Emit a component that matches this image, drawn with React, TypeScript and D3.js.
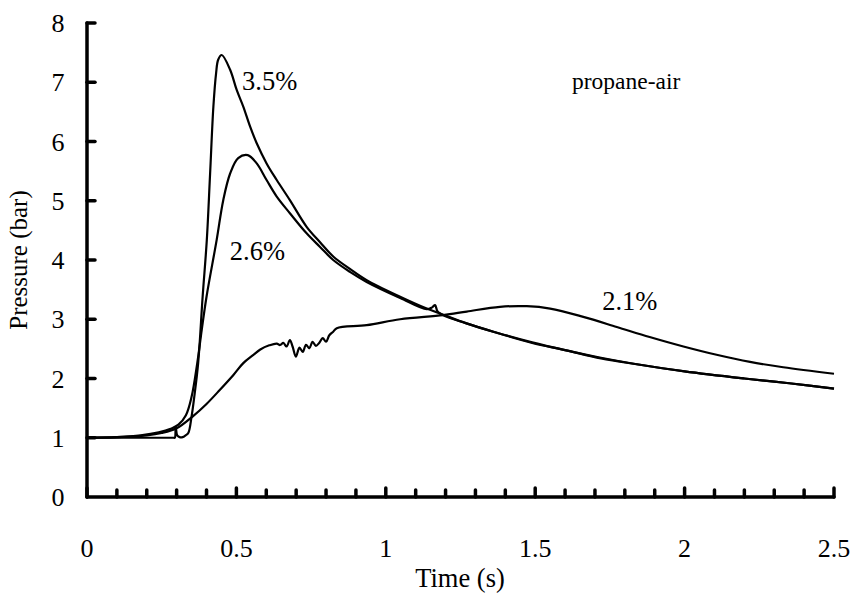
import React, { useEffect, useRef } from "react";
import * as d3 from "d3";

// Pressure histories for three propane-air concentrations
const time35 = [0, 0.1, 0.2, 0.29, 0.294, 0.297, 0.302, 0.31, 0.32, 0.33, 0.339, 0.35, 0.359, 0.372, 0.387, 0.401, 0.412, 0.423, 0.432, 0.439, 0.451, 0.479, 0.501, 0.523, 0.546, 0.568, 0.601, 0.635, 0.679, 0.735, 0.78, 0.824, 0.88, 0.936, 1.048, 1.137, 1.19, 1.27, 1.38, 1.49, 1.6, 1.72, 1.84, 2.0, 2.2, 2.35, 2.5];
const press35 = [1.0, 1.0, 1.0, 1.0, 1.0, 1.18, 1.04, 1.01, 1.01, 1.04, 1.08, 1.36, 1.69, 2.26, 3.38, 4.34, 5.46, 6.59, 7.15, 7.38, 7.46, 7.21, 6.87, 6.59, 6.25, 5.97, 5.63, 5.35, 5.01, 4.56, 4.3, 4.06, 3.85, 3.66, 3.38, 3.18, 3.08, 2.93, 2.76, 2.6, 2.48, 2.34, 2.24, 2.12, 2.0, 1.92, 1.83];

const time26 = [0, 0.1, 0.18, 0.24, 0.28, 0.306, 0.331, 0.35, 0.369, 0.384, 0.4, 0.434, 0.456, 0.479, 0.506, 0.538, 0.568, 0.601, 0.635, 0.679, 0.735, 0.78, 0.824, 0.88, 0.936, 1.048, 1.137, 1.155, 1.165, 1.175, 1.27, 1.38, 1.49, 1.6, 1.72, 1.84, 2.0, 2.2, 2.35, 2.5];
const press26 = [1.0, 1.01, 1.04, 1.09, 1.15, 1.22, 1.38, 1.69, 2.26, 2.82, 3.38, 4.34, 5.01, 5.46, 5.72, 5.77, 5.63, 5.35, 5.07, 4.79, 4.45, 4.22, 4.0, 3.8, 3.63, 3.36, 3.17, 3.2, 3.24, 3.12, 2.93, 2.76, 2.61, 2.48, 2.35, 2.24, 2.12, 2.0, 1.92, 1.83];

const time21 = [0, 0.1, 0.2, 0.25, 0.3, 0.356, 0.4, 0.445, 0.49, 0.523, 0.557, 0.58, 0.61, 0.635, 0.646, 0.657, 0.668, 0.679, 0.688, 0.699, 0.711, 0.722, 0.733, 0.744, 0.755, 0.766, 0.777, 0.789, 0.8, 0.811, 0.824, 0.836, 0.936, 1.048, 1.192, 1.271, 1.382, 1.472, 1.55, 1.661, 1.773, 1.883, 1.996, 2.107, 2.219, 2.33, 2.5];
const press21 = [1.0, 1.01, 1.04, 1.08, 1.16, 1.37, 1.57, 1.81, 2.06, 2.26, 2.4, 2.49, 2.56, 2.59, 2.565, 2.6, 2.54, 2.65, 2.54, 2.37, 2.52, 2.45, 2.57, 2.51, 2.62, 2.55, 2.6, 2.68, 2.62, 2.73, 2.79, 2.85, 2.9, 3.0, 3.07, 3.13, 3.21, 3.22, 3.18, 3.04, 2.87, 2.7, 2.54, 2.4, 2.28, 2.19, 2.08];

const seriesLabels = ["3.5%", "2.6%", "2.1%"];
const labelTime = [0.519, 0.478, 1.724];
const labelPress = [6.87, 4.0, 3.16];

const xTickLabels = ["0", "0.5", "1", "1.5", "2", "2.5"];
const yTickLabels = ["0", "1", "2", "3", "4", "5", "6", "7", "8"];

const W = 854;
const H = 598;
const FONT = "'Liberation Serif', 'Times New Roman', serif";

export default function App() {
  const ref = useRef<SVGSVGElement>(null);

  useEffect(() => {
    const svg = d3.select(ref.current);
    svg.selectAll("*").remove();

    const x = d3.scaleLinear().domain([0, 2.5]).range([87, 834]);
    const y = d3.scaleLinear().domain([0, 8]).range([497, 23]);

    const line = d3
      .line<[number, number]>()
      .x((d) => x(d[0]))
      .y((d) => y(d[1]))
      .curve(d3.curveCatmullRom.alpha(0.5));

    const series: [number, number][][] = [
      time21.map((t, i) => [t, press21[i]]),
      time26.map((t, i) => [t, press26[i]]),
      time35.map((t, i) => [t, press35[i]]),
    ];

    svg
      .append("g")
      .selectAll("path")
      .data(series)
      .join("path")
      .attr("d", (d) => line(d))
      .attr("fill", "none")
      .attr("stroke", "#000")
      .attr("stroke-width", 2.2)
      .attr("stroke-linejoin", "round");

    // axes
    const axes = svg.append("g").attr("stroke", "#000").attr("stroke-linecap", "round");
    axes
      .append("line")
      .attr("x1", x(0))
      .attr("x2", x(0))
      .attr("y1", y(0))
      .attr("y2", y(8))
      .attr("stroke-width", 3.5);
    axes
      .append("line")
      .attr("x1", x(0))
      .attr("x2", x(2.5))
      .attr("y1", y(0))
      .attr("y2", y(0))
      .attr("stroke-width", 3.5);

    const xMinor = d3.range(0, 26).map((i) => i / 10);
    axes
      .selectAll("line.xt")
      .data(xMinor)
      .join("line")
      .attr("class", "xt")
      .attr("x1", (d) => x(d))
      .attr("x2", (d) => x(d))
      .attr("y1", y(0))
      .attr("y2", (d, i) => y(0) - (i % 5 === 0 ? 9 : 7))
      .attr("stroke-width", 3.5);

    axes
      .selectAll("line.yt")
      .data(d3.range(1, 9))
      .join("line")
      .attr("class", "yt")
      .attr("x1", x(0))
      .attr("x2", x(0) + 8)
      .attr("y1", (d) => y(d))
      .attr("y2", (d) => y(d))
      .attr("stroke-width", 3.5);

    const txt = svg.append("g").attr("font-family", FONT).attr("fill", "#000");

    txt
      .selectAll("text.xl")
      .data(xTickLabels)
      .join("text")
      .attr("class", "xl")
      .attr("x", (d) => x(+d))
      .attr("y", 557)
      .attr("font-size", 26)
      .attr("text-anchor", "middle")
      .text((d) => d);

    txt
      .selectAll("text.yl")
      .data(yTickLabels)
      .join("text")
      .attr("class", "yl")
      .attr("x", 58)
      .attr("y", (d) => y(+d) + 9)
      .attr("font-size", 26)
      .attr("text-anchor", "middle")
      .text((d) => d);

    txt
      .selectAll("text.sl")
      .data(seriesLabels)
      .join("text")
      .attr("class", "sl")
      .attr("x", (d, i) => x(labelTime[i]))
      .attr("y", (d, i) => y(labelPress[i]))
      .attr("font-size", 26.5)
      .text((d) => d);

    txt.append("text").attr("x", 572).attr("y", 89).attr("font-size", 23.5).text("propane-air");

    txt
      .append("text")
      .attr("x", 460)
      .attr("y", 587)
      .attr("font-size", 26.5)
      .attr("text-anchor", "middle")
      .text("Time (s)");

    txt
      .append("text")
      .attr("transform", "translate(27,260) rotate(-90)")
      .attr("font-size", 25)
      .attr("text-anchor", "middle")
      .text("Pressure (bar)");
  }, []);

  return (
    <svg
      ref={ref}
      width={W}
      height={H}
      style={{ position: "absolute", left: 0, top: 0, background: "#fff" }}
    />
  );
}
